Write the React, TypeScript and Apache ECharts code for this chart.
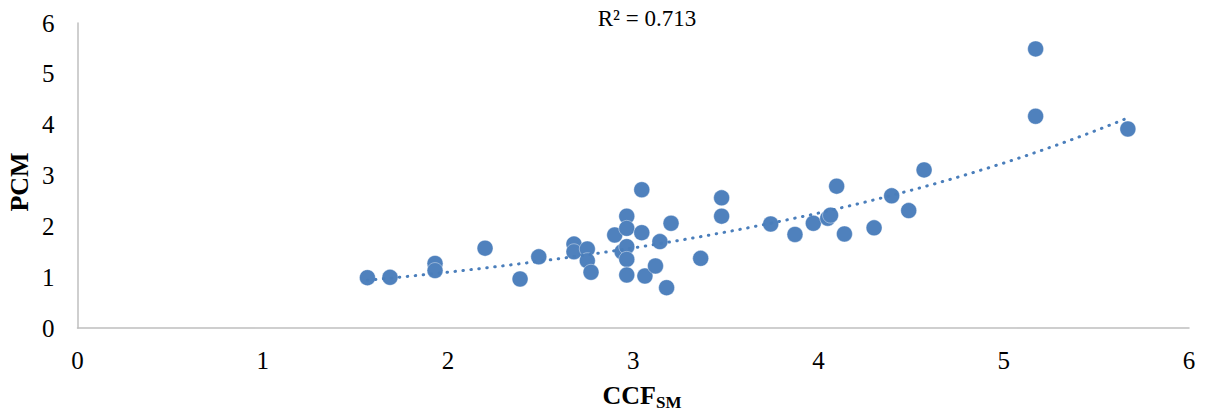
import React, { useEffect, useRef } from "react";
import * as echarts from "echarts";

const ccfSM: number[] = [
  1.565, 1.687, 1.93, 1.93, 2.2, 2.389, 2.49, 2.68, 2.68, 2.752, 2.752, 2.772,
  2.9, 2.94, 2.965, 2.965, 2.965, 2.965, 2.965, 3.046, 3.046, 3.063, 3.12, 3.144,
  3.18, 3.204, 3.364, 3.477, 3.477, 3.742, 3.873, 3.972, 4.05, 4.065, 4.098, 4.14,
  4.3, 4.395, 4.487, 4.57, 5.172, 5.172, 5.67,
];
const pcm: number[] = [
  0.99, 0.997, 1.27, 1.13, 1.57, 0.964, 1.4, 1.65, 1.5, 1.554, 1.324, 1.096,
  1.83, 1.5, 2.2, 1.96, 1.6, 1.35, 1.043, 2.72, 1.875, 1.023, 1.22, 1.7,
  0.793, 2.06, 1.37, 2.56, 2.2, 2.046, 1.84, 2.06, 2.16, 2.22, 2.79, 1.85,
  1.97, 2.6, 2.31, 3.11, 5.49, 4.165, 3.915,
];
const xTicks: number[] = [0, 1, 2, 3, 4, 5, 6];
const yTicks: number[] = [0, 1, 2, 3, 4, 5, 6];
const r2Label = "R² = 0.713";

// exponential least-squares fit (ln y on x), as a spreadsheet trendline does
function expFit(xs: number[], ys: number[]) {
  const n = xs.length;
  let sx = 0, sy = 0, sxx = 0, sxy = 0;
  for (let i = 0; i < n; i++) {
    const ly = Math.log(ys[i]);
    sx += xs[i]; sy += ly; sxx += xs[i] * xs[i]; sxy += xs[i] * ly;
  }
  const b = (n * sxy - sx * sy) / (n * sxx - sx * sx);
  const lna = (sy - b * sx) / n;
  return { a: Math.exp(lna), b };
}

export default function App() {
  const ref = useRef<HTMLDivElement>(null);
  useEffect(() => {
    if (!ref.current) return;
    const chart = echarts.init(ref.current, undefined, { renderer: "svg" });
    const { a, b } = expFit(ccfSM, pcm);
    const xmin = Math.min(...ccfSM);
    const xmax = Math.max(...ccfSM);
    const trend: number[][] = [];
    const steps = 60;
    for (let i = 0; i <= steps; i++) {
      const x = xmin + ((xmax - xmin) * i) / steps;
      trend.push([x, a * Math.exp(b * x)]);
    }
    const font = "'Liberation Serif', 'Times New Roman', serif";
    chart.setOption({
      animation: false,
      backgroundColor: "#ffffff",
      grid: { left: 77.5, right: 22, top: 23, bottom: 86, containLabel: false },
      xAxis: {
        type: "value",
        min: xTicks[0],
        max: xTicks[xTicks.length - 1],
        interval: 1,
        axisLine: { show: true, lineStyle: { color: "#bfbfbf", width: 1.5 } },
        axisTick: { show: false },
        splitLine: { show: false },
        axisLabel: { fontFamily: font, fontSize: 25, color: "#000", margin: 20 },
      },
      yAxis: {
        type: "value",
        min: yTicks[0],
        max: yTicks[yTicks.length - 1],
        interval: 1,
        axisLine: { show: true, lineStyle: { color: "#bfbfbf", width: 1.5 } },
        axisTick: { show: false },
        splitLine: { show: false },
        axisLabel: { fontFamily: font, fontSize: 25, color: "#000", margin: 23 },
      },
      series: [
        {
          type: "line",
          data: trend,
          showSymbol: false,
          symbol: "none",
          lineStyle: { color: "#4a7ebb", width: 3, type: [0.5, 7.5], cap: "round" },
          z: 3,
        },
        {
          type: "scatter",
          data: ccfSM.map((x, i) => [x, pcm[i]]),
          symbol: "circle",
          symbolSize: 16,
          itemStyle: { color: "#4f81bd", opacity: 1, borderColor: "rgba(255,255,255,0.5)", borderWidth: 0.8 },
          z: 2,
        },
      ],
      graphic: [
        {
          type: "text",
          x: 647,
          y: 18,
          style: {
            text: r2Label,
            font: `23px ${font}`,
            fill: "#000",
            align: "center",
            verticalAlign: "middle",
          },
        },
        {
          type: "text",
          x: 19,
          y: 182,
          rotation: Math.PI / 2,
          style: {
            text: "PCM",
            font: `bold 26px ${font}`,
            fill: "#000",
            align: "center",
            verticalAlign: "middle",
          },
        },
        {
          type: "text",
          x: 642,
          y: 395,
          style: {
            text: "{m|CCF}{s|SM}",
            align: "center",
            verticalAlign: "middle",
            rich: {
              m: { font: `bold 26px ${font}`, fill: "#000", lineHeight: 30 },
              s: { font: `bold 17px ${font}`, fill: "#000", padding: [14, 0, 0, 0], lineHeight: 30 },
            },
          },
        },
      ],
    });
    return () => chart.dispose();
  }, []);
  return (
    <div
      ref={ref}
      style={{ position: "fixed", left: 0, top: 0, width: 1211, height: 414 }}
    />
  );
}
